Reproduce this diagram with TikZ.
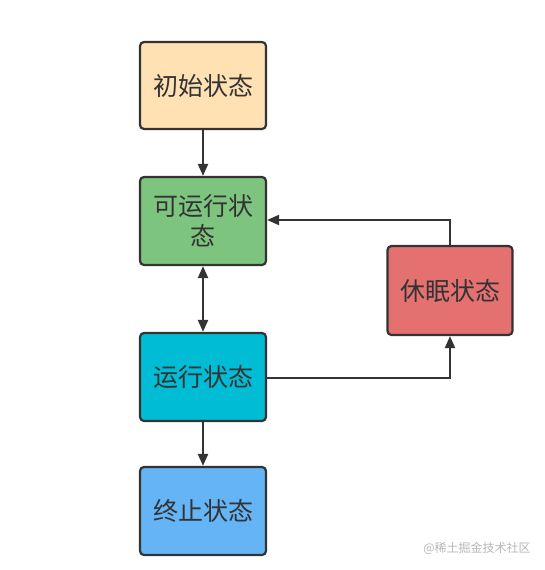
\documentclass[tikz,border=0pt]{standalone}
\usepackage{fontspec}
\newfontfamily\cjk{Noto Sans CJK SC}
\usetikzlibrary{arrows.meta}
\definecolor{edgec}{HTML}{333333}
\definecolor{cinit}{HTML}{FFE1B4}
\definecolor{crunnable}{HTML}{7DC47F}
\definecolor{csleep}{HTML}{E57070}
\definecolor{crunning}{HTML}{00BCD4}
\definecolor{cterm}{HTML}{64B4F6}
\definecolor{wm}{HTML}{B8B8B8}
\tikzset{
  statebox/.style={draw=edgec, line width=2.2pt, rounded corners=4pt,
    minimum width=126pt, minimum height=88pt, inner sep=0pt,
    text=edgec, font=\cjk\fontsize{25}{30}\selectfont, align=center},
  conn/.style={draw=edgec, line width=2.2pt, -{Triangle[length=12pt,width=10pt]}},
  conn2/.style={draw=edgec, line width=2.2pt, {Triangle[length=12pt,width=10pt]}-{Triangle[length=12pt,width=10pt]}}
}
\begin{document}
\begin{tikzpicture}[x=1pt,y=1pt]
\useasboundingbox[fill=white] (0,0) rectangle (544,-570);
\node[statebox, fill=cinit, minimum height=87pt] (init) at (203,-85.5) {初始状态};
\node[statebox, fill=crunnable] (runnable) at (203,-221) {可运行状\\态};
\node[statebox, fill=csleep, minimum width=125pt, minimum height=89pt] (sleep) at (450,-290.5) {休眠状态};
\node[statebox, fill=crunning] (running) at (203,-377) {运行状态};
\node[statebox, fill=cterm] (term) at (203,-511) {终止状态};
\coordinate (c1) at (450,-220);
\coordinate (c2) at (450,-378);
\draw[conn] (init) -- (runnable);
\draw[conn2] (runnable) -- (running);
\draw[conn] (running) -- (term);
\draw[conn] (sleep.north) -- (c1) -- (runnable.east |- c1);
\draw[conn] (running.east |- c2) -- (c2) -- (sleep.south);
\node[text=wm, font=\cjk\fontsize{12}{14}\selectfont, anchor=center] (wmark) at (477,-548) {@稀土掘金技术社区};
\end{tikzpicture}
\end{document}
